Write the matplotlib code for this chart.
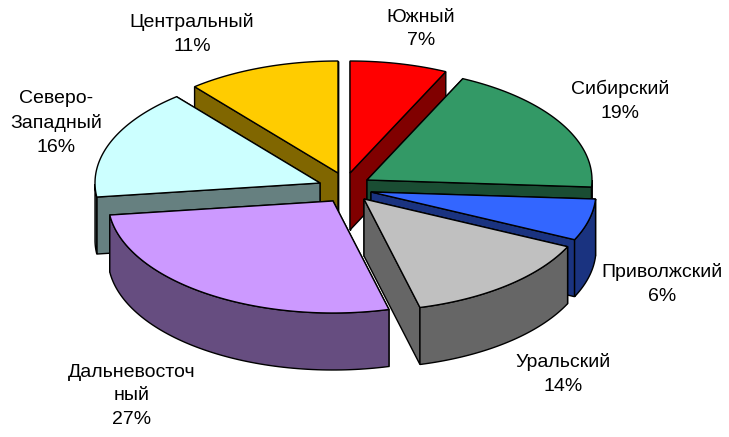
import numpy as np
import matplotlib.pyplot as plt
from matplotlib.patches import Polygon

plt.rcParams['font.family'] = ['Liberation Sans', 'DejaVu Sans']

# Data, clockwise from the top
regions = ['Южный', 'Сибирский', 'Приволжский', 'Уральский',
           'Дальневосточ\nный', 'Северо-\nЗападный', 'Центральный']
shares = [7, 19, 6, 14, 27, 16, 11]
top_colors = ['#ff0000', '#339966', '#3366ff', '#c0c0c0', '#cc99ff', '#ccffff', '#ffcc00']
side_colors = ['#800000', '#1a4d33', '#1a3380', '#666666', '#664d80', '#668080', '#806600']

# Where each slice's apex sits after exploding (pixels)
apex_x = [350, 367, 371, 364, 333, 320, 338]
apex_y = [173, 180, 192, 199, 201, 183, 173]
label_x = [421, 620, 662, 563, 132, 56, 192]
label_y = [29, 101, 284, 374, 396, 123, 34]

RX, RY, DEPTH = 225, 112, 57
draw_order = [6, 0, 1, 5, 2, 4, 3]


def wedge_points(i, start, stop):
    t = np.radians(np.linspace(start, stop, 80))
    return apex_x[i] + RX * np.sin(t), apex_y[i] - RY * np.cos(t)


fig = plt.figure(figsize=(7.29, 4.37), dpi=100)
ax = fig.add_axes([0, 0, 1, 1])
ax.set_xlim(0, 729)
ax.set_ylim(437, 0)
ax.axis('off')

edges = np.cumsum([0] + shares) * 3.6

for z, i in enumerate(draw_order):
    x, y = wedge_points(i, edges[i], edges[i + 1])
    ax0, ay0 = apex_x[i], apex_y[i]

    # Two cut walls, the far one first
    ends = sorted([(x[0], y[0]), (x[-1], y[-1])], key=lambda p: p[1])
    for px, py in ends:
        wall = [(ax0, ay0), (px, py), (px, py + DEPTH), (ax0, ay0 + DEPTH)]
        ax.add_patch(Polygon(wall, closed=True, fc=side_colors[i], ec='black',
                             lw=1.0, zorder=z * 3))

    # Rim, only the part facing us
    t_deg = np.linspace(edges[i], edges[i + 1], 80)
    front = (t_deg > 90) & (t_deg < 270)
    if front.any():
        rim = np.column_stack([np.r_[x[front], x[front][::-1]],
                               np.r_[y[front], y[front][::-1] + DEPTH]])
        ax.add_patch(Polygon(rim, closed=True, fc=side_colors[i], ec='black',
                             lw=1.0, zorder=z * 3 + 1))

    # Top face
    pts = np.column_stack([np.r_[ax0, x], np.r_[ay0, y]])
    ax.add_patch(Polygon(pts, closed=True, fc=top_colors[i], ec='black', lw=1.0,
                         zorder=z * 3 + 2))

for name, share, lx, ly in zip(regions, shares, label_x, label_y):
    ax.text(lx, ly, f'{name}\n{share}%', ha='center', va='center', fontsize=14,
            linespacing=1.52, color='black', zorder=50)

fig.savefig('out.png', dpi=100)
